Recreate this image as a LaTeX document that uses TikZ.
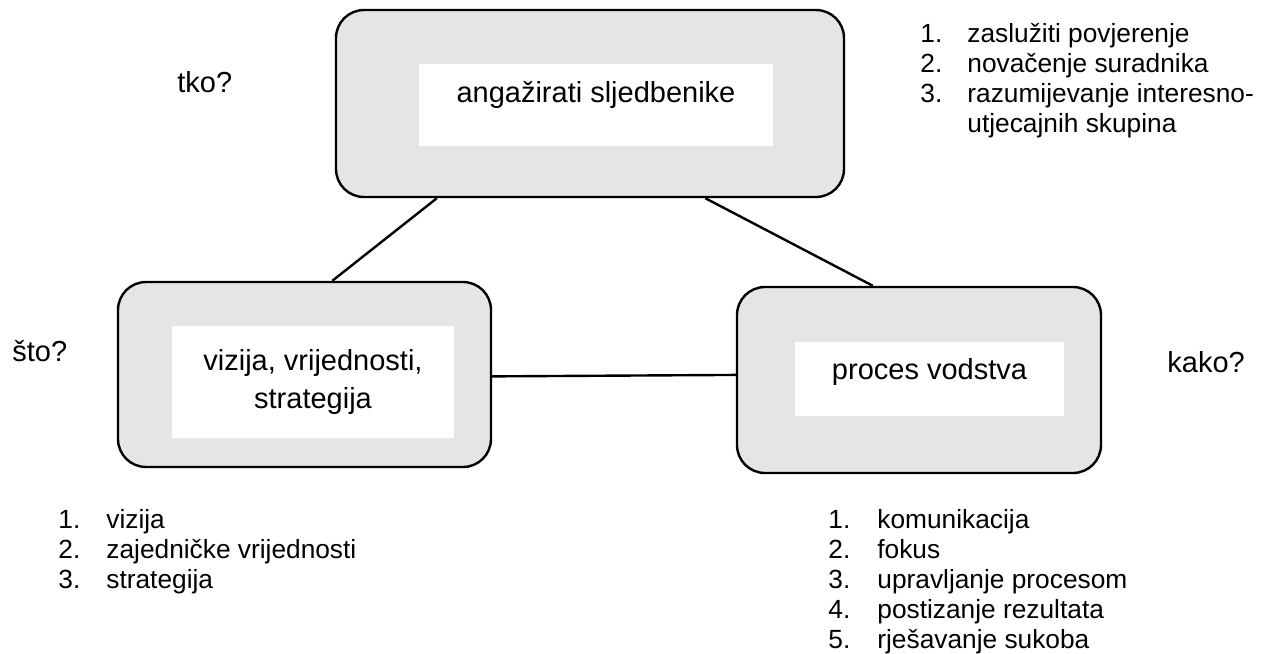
\documentclass[tikz,border=0pt]{standalone}
\usepackage{fontspec}
\setmainfont{Liberation Sans}
\usetikzlibrary{calc}
\newcommand{\boxfont}{\fontsize{14.5}{19}\selectfont}
\newcommand{\listfont}{\fontsize{13.15}{15}\selectfont}

\begin{document}
\begin{tikzpicture}[x=0.5pt,y=-0.5pt,
  outerbox/.style={draw,line width=1.2pt,fill=black!10,rounded corners=14pt,inner sep=0pt},
  innerbox/.style={fill=white,inner sep=0pt,font=\boxfont,align=center},
  link/.style={line width=1.2pt},
  ask/.style={anchor=base west,inner sep=0pt,font=\boxfont},
  items/.style={anchor=base west,inner sep=0pt,font=\listfont}]
\useasboundingbox (0,0) rectangle (1271,654);

% the three boxes
\node[outerbox,minimum width=254pt,minimum height=93.5pt] (angaz) at (590,103.5) {};
\node[innerbox,minimum width=177pt,text height=19pt,text depth=22pt] (angaztxt) at (596,105) {angažirati sljedbenike};

\node[outerbox,minimum width=186.5pt,minimum height=92.5pt] (vizija) at (304.5,374.5) {};
\node[innerbox,minimum width=141pt,minimum height=56pt] (vizijatxt) at (313,382) {vizija, vrijednosti,\\ strategija};

\node[outerbox,minimum width=182pt,minimum height=93pt] (proces) at (919,380) {};
\node[innerbox,minimum width=134.5pt,text height=18.5pt,text depth=18.5pt] (procestxt) at (929.5,379) {proces vodstva};

% questions
\node[ask] (tko) at (177,92) {tko?};
\node[ask] (sto) at (12,361) {što?};
\node[ask] (kako) at (1167,372) {kako?};

% lists
\node[items] (tkolist) at (920,42) {\begin{tabular}[t]{@{}p{23.5pt}@{}l@{}}
  1. & zaslužiti povjerenje\\
  2. & novačenje suradnika\\
  3. & razumijevanje interesno-\\
     & utjecajnih skupina
\end{tabular}};
\node[items] (stolist) at (58,528) {\begin{tabular}[t]{@{}p{24pt}@{}l@{}}
  1. & vizija\\
  2. & zajedničke vrijednosti\\
  3. & strategija
\end{tabular}};
\node[items] (kakolist) at (828,528) {\begin{tabular}[t]{@{}p{24.5pt}@{}l@{}}
  1. & komunikacija\\
  2. & fokus\\
  3. & upravljanje procesom\\
  4. & postizanje rezultata\\
  5. & rješavanje sukoba
\end{tabular}};

% connectors
\draw[link] ($(angaz.south west)!0.2!(angaz.south east)$) -- ($(vizija.north west)!0.574!(vizija.north east)$);
\draw[link] ($(angaz.south west)!0.726!(angaz.south east)$) -- ($(proces.north west)!0.374!(proces.north east)$);
\draw[link] ($(vizija.north east)!0.51!(vizija.south east)$) -- ($(proces.north west)!0.473!(proces.south west)$);
\end{tikzpicture}
\end{document}
